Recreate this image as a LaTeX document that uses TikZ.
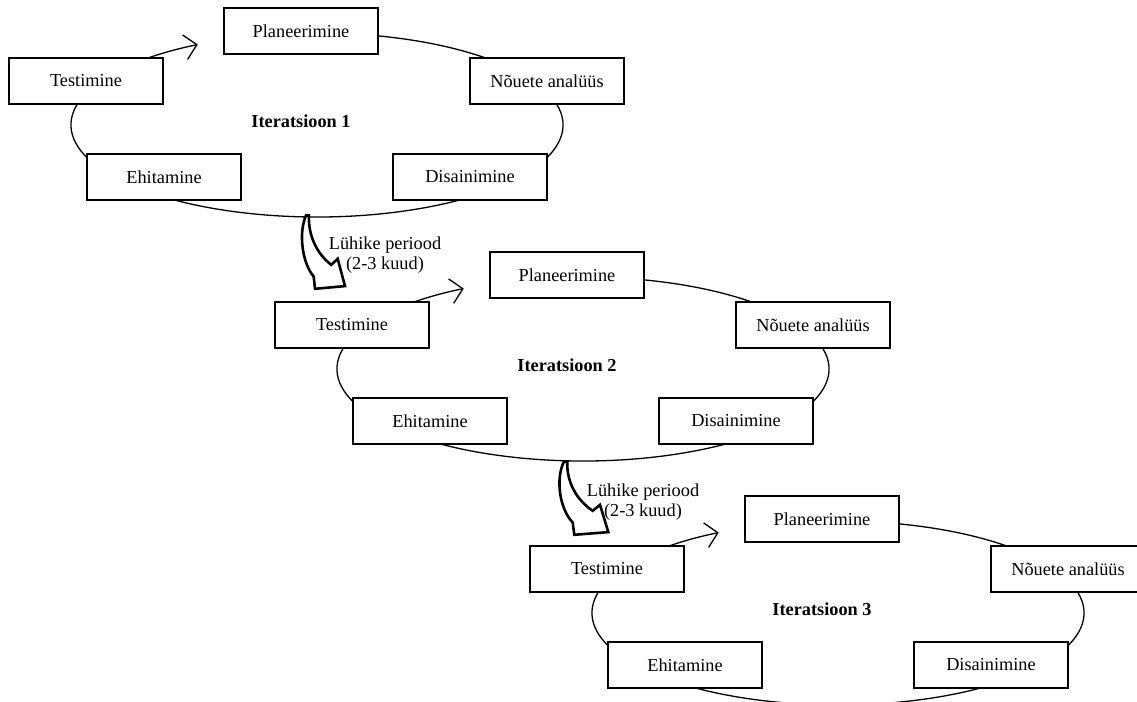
\documentclass[tikz,border=0pt]{standalone}
\usepackage{fontspec}
\setmainfont{Liberation Serif}
\usetikzlibrary{arrows.meta,backgrounds}
\tikzset{
  stage/.style={draw, line width=1.5pt, fill=white, minimum width=154pt, minimum height=46pt, inner sep=0pt, font=\fontsize{18.3}{22}\selectfont},
  itlabel/.style={font=\fontsize{18.3}{22}\selectfont\bfseries},
  cycleline/.style={line width=1.3pt},
  blockarrow/.style={line width=2.6pt, fill=white, line join=miter},
  periodlabel/.style={align=center, inner sep=0pt, font=\fontsize{18.3}{20}\selectfont}
}
\newcommand{\iterblock}[4]{%
  \begin{scope}[shift={(#2,-#3)}]
    \node[stage] (P#1) at (301,-31) {Planeerimine};
    \node[stage] (T#1) at (86,-81) {Testimine};
    \node[stage] (N#1) at (547,-81) {Nõuete analüüs};
    \node[stage] (E#1) at (164,-177) {Ehitamine};
    \node[stage] (D#1) at (470,-177) {Disainimine};
    \node[itlabel] (I#1) at (301,-121) {Iteratsioon #4};
    \coordinate (C#1) at (317,-125);
  \end{scope}
  \begin{scope}[on background layer]
    \draw[cycleline, -{Straight Barb[length=12pt,width=25pt]}]
      ([shift={(112:246 and 92)}]C#1) arc[start angle=112, end angle=-241, x radius=246pt, y radius=92pt];
  \end{scope}
}
\newcommand{\curvedblockarrow}{%
  \draw[blockarrow] (0,0) -- (3.3,0) .. controls (2.5,-20) and (12,-38) .. (28.7,-49.3)
    -- (36,-43.3) -- (44.3,-70.6) -- (10.3,-73.3) -- (8.7,-61)
    .. controls (-4,-48) and (-9,-18) .. cycle;
}
\begin{document}
\begin{tikzpicture}[x=1pt,y=1pt]
\useasboundingbox (0,0) rectangle (1137,-701);
\iterblock{1}{0}{0}{1}
\iterblock{2}{266}{244}{2}
\iterblock{3}{521}{488}{3}
% transition arrows
\node[periodlabel] (L1) at (385,-255) {Lühike periood\\(2-3 kuud)};
\node[periodlabel] (L2) at (643,-502) {Lühike periood\\(2-3 kuud)};
\begin{scope}[shift={(306,-215.5)}, xscale=0.88]
  \curvedblockarrow
\end{scope}
\begin{scope}[shift={(564,-461.5)}]
  \curvedblockarrow
\end{scope}
\end{tikzpicture}
\end{document}
